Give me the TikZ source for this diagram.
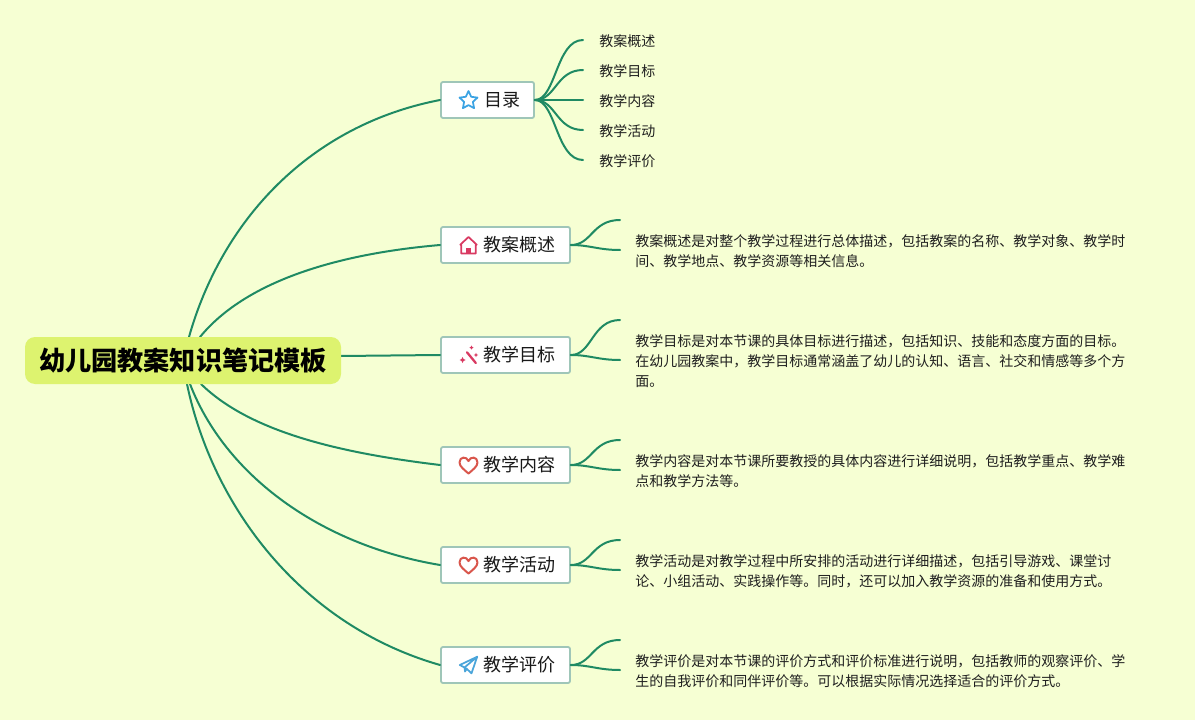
\documentclass[tikz,border=0pt]{standalone}
\usepackage{fontspec}
\setmainfont{Noto Sans CJK SC}
\definecolor{bgc}{HTML}{F6FFD3}
\definecolor{rootc}{HTML}{DDF36F}
\definecolor{linec}{HTML}{1F8A63}
\definecolor{boxc}{HTML}{9FC6B8}
\definecolor{starc}{HTML}{3BA3E3}
\definecolor{housec}{HTML}{D93A62}
\definecolor{heartc}{HTML}{D9564C}
\definecolor{planec}{HTML}{4AA5DA}
\newcommand{\topiclabel}[2]{\hspace*{#1}\raisebox{-0.75pt}{#2}}
\tikzset{
  x=0.75pt,y=-0.75pt,
  rootbox/.style={fill=rootc,rounded corners=7.5pt,minimum width=237pt,minimum height=35.25pt,inner sep=0pt,font=\fontsize{19.6}{24}\selectfont\bfseries},
  topicbox/.style={draw=boxc,line width=1.35pt,fill=white,rounded corners=1.5pt,minimum height=27pt,inner sep=0pt,font=\fontsize{13.5}{16}\selectfont,text=black!90},
  widebox/.style={topicbox,minimum width=96.75pt},
  narrowbox/.style={topicbox,minimum width=69.75pt},
  leaf/.style={inner sep=0pt,anchor=west,font=\fontsize{10.5}{15}\selectfont,text=black!88},
  para/.style={leaf,align=left},
  conn/.style={draw=linec,line width=1.5pt,line cap=round},
  icon/.style={line width=1.3pt,line join=round,line cap=round},
  pics/staricon/.style={code={\draw[icon,starc] (0,-9.5)--(2.7,-3.7)--(9,-2.9)--(4.4,1.4)--(5.6,7.7)--(0,4.6)--(-5.6,7.7)--(-4.4,1.4)--(-9,-2.9)--(-2.7,-3.7)--cycle;}},
  pics/houseicon/.style={code={\draw[icon,housec] (-7.2,-0.5)--(-8.2,-0.8)--(0,-8.5)--(8.2,-0.8)--(7.2,-0.5)--(7.2,8)--(-7.2,8)--cycle;\fill[housec] (-2.6,8)--(-2.6,2.2)--(2.6,2.2)--(2.6,8)--cycle;}},
  pics/wandicon/.style={code={\draw[icon,housec,line width=1.7pt] (-1.5,-2.7)--(7.3,8);\fill[housec] (3,-9.5)--(3.8,-8)--(5.2,-7.4)--(3.8,-6.8)--(3,-5.3)--(2.2,-6.8)--(0.8,-7.4)--(2.2,-8)--cycle;\fill[housec] (7.5,-2.2)--(8.2,-.7)--(9.7,0)--(8.2,.7)--(7.5,2.2)--(6.8,.7)--(5.3,0)--(6.8,-.7)--cycle;\fill[housec] (-6,2)--(-5,4)--(-3,5)--(-5,6)--(-6,8)--(-7,6)--(-9,5)--(-7,4)--cycle;}},
  pics/hearticon/.style={code={\draw[icon,heartc,line width=1.5pt] (0,8) .. controls (-4,4.5) and (-9,1) .. (-9,-3) .. controls (-9,-9) and (-2,-9.5) .. (0,-4.5) .. controls (2,-9.5) and (9,-9) .. (9,-3) .. controls (9,1) and (4,4.5) .. (0,8) -- cycle;}},
  pics/planeicon/.style={code={\draw[icon,planec] (8.7,-8.3)--(-8.7,0)--(-4,2.5)--(8.7,-8.3)--(3,8.3)--(-1.8,3.8)--(-4,2.5);\draw[icon,planec] (-4,2.5)--(-3.5,6.5)--(-1.8,3.8);}}
}
\begin{document}
\begin{tikzpicture}
\useasboundingbox[fill=bgc] (0,0) rectangle (1195,720);
% root
\coordinate (r1) at (189,337);
\coordinate (r2) at (200,337);
\coordinate (r3) at (341,356);
\coordinate (r4) at (201,384);
\coordinate (r5) at (190,384);
\coordinate (r6) at (187,384);
% topics
\node[narrowbox] (t1) at (487.5,100) {\topiclabel{21.75pt}{目录}};
\node[widebox] (t2) at (505.5,245) {\topiclabel{20.25pt}{教案概述}};
\node[widebox] (t3) at (505.5,355) {\topiclabel{20.25pt}{教学目标}};
\node[widebox] (t4) at (505.5,465) {\topiclabel{20.25pt}{教学内容}};
\node[widebox] (t5) at (505.5,565) {\topiclabel{20.25pt}{教学活动}};
\node[widebox] (t6) at (505.5,665) {\topiclabel{20.25pt}{教学评价}};
% free ends
\coordinate (e1a) at (583,40);
\coordinate (e1b) at (583,70);
\coordinate (e1c) at (583,100);
\coordinate (e1d) at (583,130);
\coordinate (e1e) at (583,160);
\coordinate (e2a) at (620,220);
\coordinate (e2b) at (620,250);
\coordinate (e3a) at (620,320);
\coordinate (e3b) at (620,360);
\coordinate (e4a) at (620,440);
\coordinate (e4b) at (620,470);
\coordinate (e5a) at (620,540);
\coordinate (e5b) at (620,570);
\coordinate (e6a) at (620,640);
\coordinate (e6b) at (620,670);
% root connectors
\draw[conn] (r1) .. controls (222,220) and (310,125) .. (t1.west);
\draw[conn] (r2) .. controls (245,282) and (335,254) .. (t2.west);
\draw[conn] (r3) -- (t3.west);
\draw[conn] (r4) .. controls (250,432) and (340,453) .. (t4.west);
\draw[conn] (r5) .. controls (225,475) and (320,545) .. (t5.west);
\draw[conn] (r6) .. controls (212,505) and (300,625) .. (t6.west);
% branch connectors
\draw[conn] (t1.east) .. controls (556,100) and (556,40) .. (e1a);
\draw[conn] (t1.east) .. controls (556,100) and (556,70) .. (e1b);
\draw[conn] (t1.east) -- (e1c);
\draw[conn] (t1.east) .. controls (556,100) and (556,130) .. (e1d);
\draw[conn] (t1.east) .. controls (556,100) and (556,160) .. (e1e);
\draw[conn] (t2.east) .. controls (592,245) and (592,220) .. (e2a);
\draw[conn] (t2.east) .. controls (590,245) and (598,250) .. (e2b);
\draw[conn] (t3.east) .. controls (592,355) and (592,320) .. (e3a);
\draw[conn] (t3.east) .. controls (590,355) and (598,360) .. (e3b);
\draw[conn] (t4.east) .. controls (592,465) and (592,440) .. (e4a);
\draw[conn] (t4.east) .. controls (590,465) and (598,470) .. (e4b);
\draw[conn] (t5.east) .. controls (592,565) and (592,540) .. (e5a);
\draw[conn] (t5.east) .. controls (590,565) and (598,570) .. (e5b);
\draw[conn] (t6.east) .. controls (592,665) and (592,640) .. (e6a);
\draw[conn] (t6.east) .. controls (590,665) and (598,670) .. (e6b);
% root node on top
\node[rootbox] (root) at (183,360.5) {\raisebox{-1.1pt}{幼儿园教案知识笔记模板}};
% icons
\pic at (468.5,100.5) {staricon};
\pic at (468.5,245.5) {houseicon};
\pic at (468.5,355) {wandicon};
\pic at (468.5,465.5) {hearticon};
\pic at (468.5,565.5) {hearticon};
\pic at (468.5,665) {planeicon};
% leaves
\node[leaf] (l1) at (599,41) {教案概述};
\node[leaf] (l2) at (599,71) {教学目标};
\node[leaf] (l3) at (599,101) {教学内容};
\node[leaf] (l4) at (599,131) {教学活动};
\node[leaf] (l5) at (599,161) {教学评价};
\node[para] (p2) at (635,251) {教案概述是对整个教学过程进行总体描述，包括教案的名称、教学对象、教学时\\间、教学地点、教学资源等相关信息。};
\node[para] (p3) at (635,361) {教学目标是对本节课的具体目标进行描述，包括知识、技能和态度方面的目标。\\在幼儿园教案中，教学目标通常涵盖了幼儿的认知、语言、社交和情感等多个方\\面。};
\node[para] (p4) at (635,471) {教学内容是对本节课所要教授的具体内容进行详细说明，包括教学重点、教学难\\点和教学方法等。};
\node[para] (p5) at (635,571) {教学活动是对教学过程中所安排的活动进行详细描述，包括引导游戏、课堂讨\\论、小组活动、实践操作等。同时，还可以加入教学资源的准备和使用方式。};
\node[para] (p6) at (635,671) {教学评价是对本节课的评价方式和评价标准进行说明，包括教师的观察评价、学\\生的自我评价和同伴评价等。可以根据实际情况选择适合的评价方式。};
\end{tikzpicture}
\end{document}
